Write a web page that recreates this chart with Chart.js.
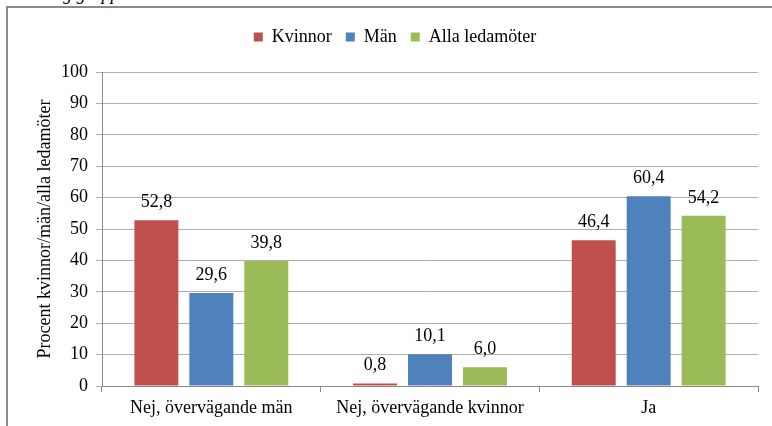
<!DOCTYPE html>
<html>
<head>
<meta charset="utf-8">
<script src="https://cdn.jsdelivr.net/npm/chart.js@4/dist/chart.umd.min.js"></script>
<style>
  html, body { margin: 0; padding: 0; background: #fff; overflow: hidden; }
  #wrap { position: relative; width: 772px; height: 426px; overflow: hidden; }
  #frame { position: absolute; left: 6px; top: 6px; width: 900px; height: 600px;
           border-left: 2px solid #8a8a8a; border-top: 2px solid #8a8a8a; }
  #cut { position: absolute; left: 54px; top: -15px; font-style: italic; font-size: 18px;
         font-family: "Liberation Serif", "Times New Roman", "DejaVu Serif", serif; line-height: 18px; color: #000; white-space: nowrap; }
  #c { position: absolute; left: 0; top: 0; }
</style>
</head>
<body>
<div id="wrap">
  <div id="cut">ng grupp</div>
  <div id="frame"></div>
  <canvas id="c" width="772" height="426"></canvas>
</div>
<script>
const categories = ['Nej, övervägande män', 'Nej, övervägande kvinnor', 'Ja'];
const seriesNames = ['Kvinnor', 'Män', 'Alla ledamöter'];
const kvinnor = [52.8, 0.8, 46.4];
const man = [29.6, 10.1, 60.4];
const alla = [39.8, 6.0, 54.2];
const yAxisTitle = 'Procent kvinnor/män/alla ledamöter';
const colors = ['#C0504D', '#4F81BD', '#9BBB59'];

const FONT = '"Liberation Serif", "Times New Roman", "DejaVu Serif", serif';

const valueLabels = {
  id: 'valueLabels',
  afterDatasetsDraw(chart) {
    const ctx = chart.ctx;
    ctx.save();
    ctx.font = '18px ' + FONT;
    ctx.fillStyle = '#000';
    ctx.textAlign = 'center';
    ctx.textBaseline = 'alphabetic';
    chart.data.datasets.forEach((ds, di) => {
      const meta = chart.getDatasetMeta(di);
      meta.data.forEach((el, i) => {
        const txt = ds.data[i].toFixed(1).replace('.', ',');
        ctx.fillText(txt, el.x, el.y - 13);
      });
    });
    ctx.restore();
  }
};

const legendHeight = {
  id: 'legendHeight',
  beforeLayout(chart) {
    const lg = chart.legend;
    if (lg && !lg._patched) {
      const orig = lg.fit;
      lg.fit = function () { orig.call(this); this.height = 58; };
      lg._patched = true;
    }
  }
};

new Chart(document.getElementById('c'), {
  type: 'bar',
  data: {
    labels: categories,
    datasets: [
      { label: seriesNames[0], data: kvinnor, backgroundColor: colors[0], borderWidth: 0 },
      { label: seriesNames[1], data: man, backgroundColor: colors[1], borderWidth: 0 },
      { label: seriesNames[2], data: alla, backgroundColor: colors[2], borderWidth: 0 }
    ]
  },
  options: {
    responsive: false,
    animation: false,
    devicePixelRatio: 1,
    layout: { padding: { left: 32, right: 14, top: 14, bottom: 0 } },
    datasets: { bar: { categoryPercentage: 0.754, barPercentage: 0.8 } },
    plugins: {
      legend: {
        position: 'top',
        align: 'center',
        labels: {
          boxWidth: 9, boxHeight: 9, padding: 14, color: '#000',
          font: { family: FONT, size: 18 }
        }
      },
      tooltip: { enabled: false },
      title: { display: false }
    },
    scales: {
      x: {
        offset: true,
        grid: { display: true, drawOnChartArea: false, drawTicks: true, tickLength: 6, color: '#8a8a8a', offset: true },
        border: { display: true, color: '#8a8a8a' },
        ticks: { color: '#000', padding: 5, font: { family: FONT, size: 18 }, maxRotation: 0 },
        afterFit(scale) { scale.height = 40; }
      },
      y: {
        min: 0, max: 100,
        ticks: { stepSize: 10, color: '#000', padding: 8, font: { family: FONT, size: 18 } },
        grid: { color: '#b0b0b0', tickLength: 6, drawTicks: true },
        border: { display: true, color: '#8a8a8a' },
        title: { display: true, text: yAxisTitle, color: '#000', font: { family: FONT, size: 18, lineHeight: 1.2 }, padding: { top: 2, bottom: 0 } },
        afterFit(scale) { scale.width = 70; }
      }
    }
  },
  plugins: [valueLabels, legendHeight]
});
</script>
</body>
</html>
